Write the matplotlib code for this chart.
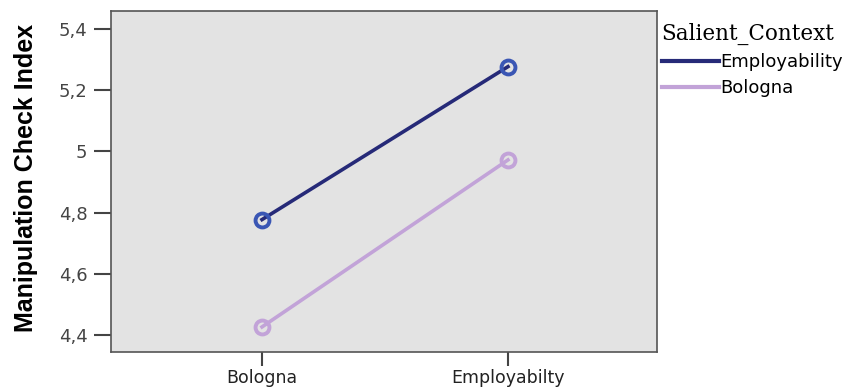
import matplotlib
matplotlib.use("Agg")
import matplotlib.pyplot as plt
from matplotlib import font_manager
from matplotlib.lines import Line2D

# Estimated marginal means by condition
conditions = ["Bologna", "Employabilty"]
series_names = ["Employability", "Bologna"]
employability_means = [4.777, 5.277]
bologna_means = [4.426, 4.972]
y_ticks = [4.4, 4.6, 4.8, 5.0, 5.2, 5.4]
y_tick_labels = ["4,4", "4,6", "4,8", "5", "5,2", "5,4"]

line_colors = {"Employability": "#262a78", "Bologna": "#c2a3d8"}
marker_colors = {"Employability": "#3a56b4", "Bologna": "#c2a3d8"}

installed = {f.name for f in font_manager.fontManager.ttflist}
if "Liberation Sans Narrow" in installed:
    ylab_font, ylab_size = "Liberation Sans Narrow", 20
else:
    ylab_font, ylab_size = "Liberation Sans", 18

plt.rcParams["font.family"] = ["DejaVu Sans"]

fig = plt.figure(figsize=(8.52, 3.89), dpi=100)
ax = fig.add_axes([111 / 852, 1 - 352 / 389, 546 / 852, 341 / 389])
ax.set_facecolor("#e3e3e3")

x = list(range(len(conditions)))
for name, vals in zip(series_names, [employability_means, bologna_means]):
    ax.plot(x, vals, color=line_colors[name], lw=2.6, zorder=2)
    ax.plot(x, vals, ls="none", marker="o", ms=10, mfc="none",
            mec=marker_colors[name], mew=2.8, zorder=3)

ax.set_xlim(-0.614, 1.606)
ax.set_ylim(4.344, 5.459)
ax.set_xticks(x)
ax.set_xticklabels(conditions, fontsize=12.5, color="#222222")
ax.set_yticks(y_ticks)
ax.set_yticklabels(y_tick_labels, fontsize=13, color="#444444")
ax.tick_params(axis="y", length=12, width=1.5, color="#444444", pad=5)
ax.tick_params(axis="x", length=10, width=1.5, color="#444444", pad=2)
for s in ax.spines.values():
    s.set_color("#555555")
    s.set_linewidth(1.2)

fig.text(26 / 852, 1 - 178 / 389, "Manipulation Check Index", rotation=90,
         ha="center", va="center", fontsize=ylab_size, fontweight="bold",
         family=ylab_font)

handles = [Line2D([0], [0], color=line_colors[n], lw=3) for n in series_names]
leg = fig.legend(handles, series_names, loc="upper left",
                 bbox_to_anchor=(658 / 852, 1 - 19 / 389), frameon=False,
                 fontsize=13, handlelength=3.2, handletextpad=0.05,
                 labelspacing=0.45, borderpad=0.2, borderaxespad=0)
leg.set_title("Salient_Context", prop={"family": "DejaVu Serif", "size": 15.5})
leg._legend_box.align = "left"

fig.savefig("out.png", dpi=100)
